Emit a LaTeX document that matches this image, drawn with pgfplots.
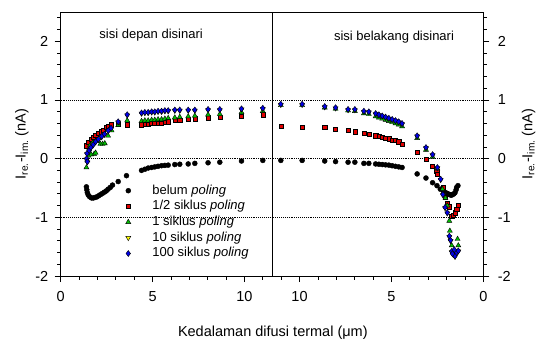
\documentclass[border=0pt]{standalone}
\usepackage{fontspec}
\setmainfont{Liberation Sans}
\usepackage{pgfplots}
\usepackage{pgfplotstable}
\pgfplotsset{compat=1.18}

% ---------- front side illuminated (left half, x = d) ----------
\pgfplotstableread{
d y
1.40 -0.48
1.42 -0.53
1.45 -0.58
1.50 -0.62
1.58 -0.65
1.68 -0.67
1.78 -0.67
1.88 -0.66
1.98 -0.65
2.08 -0.63
2.18 -0.61
2.28 -0.59
2.38 -0.57
2.48 -0.55
2.58 -0.52
2.70 -0.49
2.82 -0.45
3.13 -0.39
3.58 -0.29
4.40 -0.20
4.58 -0.18
4.76 -0.16
4.95 -0.15
5.12 -0.14
5.30 -0.13
5.49 -0.12
5.67 -0.115
5.85 -0.11
6.21 -0.10
6.48 -0.095
6.94 -0.09
7.30 -0.08
8.02 -0.07
8.66 -0.06
9.84 -0.04
11.00 -0.03
}\blackL
\pgfplotstableread{
d y
1.37 0.22
1.50 0.28
1.64 0.33
1.77 0.36
1.90 0.40
2.05 0.43
2.20 0.46
2.32 0.49
2.47 0.53
2.60 0.56
2.74 0.58
3.13 0.59
3.62 0.58
4.40 0.58
4.58 0.59
4.76 0.59
4.95 0.60
5.12 0.60
5.30 0.61
5.49 0.61
5.67 0.62
5.85 0.63
6.21 0.65
6.48 0.66
6.94 0.67
7.30 0.68
8.02 0.70
8.66 0.71
9.84 0.73
11.00 0.75
}\redL
\pgfplotstableread{
d y
1.40 -0.15
1.45 -0.03
1.52 0.05
1.58 0.22
1.66 0.07
1.74 0.27
1.82 0.08
1.90 0.10
2.05 0.30
2.16 0.25
2.28 0.25
2.40 0.26
2.58 0.39
2.77 0.48
3.13 0.57
3.62 0.65
4.40 0.64
4.58 0.65
4.76 0.65
4.95 0.66
5.12 0.66
5.30 0.67
5.49 0.67
5.67 0.68
5.85 0.69
6.21 0.70
6.48 0.71
6.94 0.72
7.30 0.73
8.02 0.75
8.66 0.76
9.84 0.79
11.00 0.81
}\greenL
\pgfplotstableread{
d y
1.41 -0.01
1.45 -0.06
1.43 0.08
1.55 0.13
1.64 0.18
1.77 0.23
1.90 0.28
2.05 0.32
2.23 0.37
2.38 0.41
2.59 0.47
2.74 0.51
3.13 0.62
3.62 0.74
4.40 0.77
4.58 0.78
4.76 0.78
4.95 0.79
5.12 0.79
5.30 0.80
5.49 0.80
5.67 0.81
5.85 0.81
6.21 0.82
6.48 0.82
6.94 0.82
7.30 0.82
8.02 0.83
8.66 0.83
9.84 0.84
11.00 0.85
}\yellowL
\pgfplotstableread{
d y
1.41 0.00
1.45 -0.05
1.43 0.09
1.55 0.14
1.64 0.19
1.77 0.24
1.90 0.29
2.05 0.33
2.23 0.38
2.38 0.42
2.59 0.48
2.74 0.52
3.13 0.63
3.62 0.75
4.40 0.78
4.58 0.79
4.76 0.79
4.95 0.80
5.12 0.80
5.30 0.81
5.49 0.81
5.67 0.82
5.85 0.82
6.21 0.83
6.48 0.83
6.94 0.83
7.30 0.83
8.02 0.84
8.66 0.84
9.84 0.85
11.00 0.86
}\blueL

% ---------- back side illuminated (right half, x = 23 - d) ----------
\pgfplotstableread{
d y
11.02 -0.03
9.86 -0.03
8.63 -0.04
8.04 -0.05
7.36 -0.06
6.99 -0.06
6.50 -0.08
6.23 -0.08
5.86 -0.09
5.68 -0.095
5.50 -0.10
5.32 -0.105
5.14 -0.11
4.96 -0.12
4.78 -0.13
4.60 -0.14
4.42 -0.15
3.60 -0.26
3.12 -0.33
2.76 -0.41
2.52 -0.46
2.34 -0.52
2.17 -0.56
2.05 -0.58
1.99 -0.59
1.92 -0.60
1.85 -0.61
1.78 -0.62
1.72 -0.62
1.67 -0.61
1.60 -0.60
1.54 -0.58
1.48 -0.53
1.45 -0.49
1.38 -0.46
}\blackR
\pgfplotstableread{
d y
11.02 0.56
9.86 0.54
8.63 0.53
8.04 0.50
7.36 0.48
6.99 0.46
6.50 0.43
6.23 0.42
5.86 0.39
5.68 0.38
5.50 0.37
5.32 0.35
5.14 0.34
4.96 0.32
4.78 0.31
4.60 0.29
4.42 0.25
3.58 0.11
3.12 -0.01
2.78 -0.13
2.54 -0.21
2.52 -0.26
2.20 -0.48
2.08 -0.66
1.96 -0.76
1.85 -0.82
1.72 -0.98
1.63 -0.97
1.54 -0.92
1.45 -0.86
1.36 -0.79
}\redR
\pgfplotstableread{
d y
11.02 0.91
9.86 0.91
8.63 0.87
8.04 0.85
7.36 0.82
6.99 0.81
6.50 0.77
6.23 0.76
5.86 0.72
5.68 0.70
5.50 0.68
5.32 0.66
5.14 0.64
4.96 0.62
4.78 0.60
4.60 0.58
4.42 0.55
3.60 0.35
3.12 0.15
2.76 0.03
2.50 -0.17
2.22 -0.52
2.06 -0.67
1.96 -0.80
1.85 -1.06
1.82 -1.23
1.72 -1.48
1.40 -1.37
1.36 -1.48
}\greenR
\pgfplotstableread{
d y
11.02 0.92
9.86 0.92
8.63 0.88
8.04 0.86
7.36 0.83
6.99 0.83
6.50 0.80
6.23 0.79
5.86 0.76
5.68 0.74
5.50 0.72
5.32 0.70
5.14 0.68
4.96 0.66
4.78 0.64
4.60 0.62
4.42 0.59
3.60 0.38
3.12 0.18
2.76 0.06
2.50 -0.16
2.32 -0.36
2.20 -0.62
2.08 -0.84
1.96 -0.93
1.85 -1.33
1.78 -1.40
1.72 -1.59
1.63 -1.64
1.54 -1.67
1.45 -1.61
1.36 -1.58
}\yellowR
\pgfplotstableread{
d y
11.02 0.93
9.86 0.93
8.63 0.89
8.04 0.87
7.36 0.84
6.99 0.84
6.50 0.81
6.23 0.80
5.86 0.77
5.68 0.75
5.50 0.73
5.32 0.71
5.14 0.69
4.96 0.67
4.78 0.65
4.60 0.63
4.42 0.60
3.60 0.39
3.12 0.19
2.76 0.07
2.50 -0.15
2.32 -0.35
2.20 -0.61
2.08 -0.83
1.96 -0.92
1.85 -1.32
1.78 -1.39
1.72 -1.58
1.63 -1.63
1.54 -1.66
1.45 -1.60
1.36 -1.57
1.58 -1.55
1.68 -1.62
}\blueR

\definecolor{mred}{RGB}{225,0,0}
\definecolor{mgreen}{RGB}{0,190,0}
\definecolor{myellow}{RGB}{255,255,0}
\definecolor{mblue}{RGB}{0,0,230}

\pgfplotsset{
  common/.style={
    at={(0,0)}, anchor=south west,
    scale only axis, width=422.6bp, height=264bp,
    xmin=0, xmax=23, ymin=-2, ymax=2.5,
    ytick={-2,-1,0,1,2},
    minor ytick={-1.8,-1.6,-1.4,-1.2,-0.8,-0.6,-0.4,-0.2,0.2,0.4,0.6,0.8,1.2,1.4,1.6,1.8,2.2,2.4},
    tick align=outside,
    major tick length=6bp, minor tick length=3.5bp,
    every tick/.style={black, line width=0.8bp},
    axis line style={line width=0.8bp},
    tick label style={font=\fontsize{14.5bp}{17bp}\selectfont},
    label style={font=\fontsize{14.5bp}{17bp}\selectfont},
    /pgf/number format/assume math mode=true,
  },
  sBlack/.style={only marks, mark=*, mark size=2.5bp, mark options={fill=black, draw=black, line width=0.4bp}},
  sRed/.style={only marks, mark=square*, mark size=2.1bp, mark options={fill=mred, draw=black, line width=0.4bp}},
  sGreen/.style={only marks, mark=triangle*, mark size=2.9bp, mark options={fill=mgreen, draw=black, line width=0.4bp}},
  sYellow/.style={only marks, mark=triangle*, mark size=2.9bp, mark options={fill=myellow, draw=black, line width=0.4bp, rotate=180}},
  sBlue/.style={only marks, mark=diamond*, mark size=3.0bp, mark options={fill=mblue, draw=black, line width=0.4bp}},
}

\begin{document}
\begin{tikzpicture}
\path[use as bounding box] (-60.7bp,-67bp) rectangle (475.3bp,276bp);
\begin{axis}[
  common,
  xtick={0,5,10,13,18,23}, xticklabels={0,5,10,10,5,0},
  minor xtick={1,2,3,4,6,7,8,9,11,12,14,15,16,17,19,20,21,22},
  xtick pos=bottom, ytick pos=left, yticklabel pos=left,
  xticklabel style={yshift=-6bp},
  yticklabel style={xshift=-3bp},
  xlabel={Kedalaman difusi termal (μm)},
  ylabel={I\textsubscript{re.}-I\textsubscript{im.} (nA)},
  xlabel style={at={(axis description cs:0.502,-0.215)}, anchor=center},
  ylabel style={at={(axis description cs:-0.0916,0.5)}, anchor=center},
  legend style={draw=none, fill=none, inner sep=0pt, outer sep=0pt,
    at={(axis description cs:0.154,0.3464)}, anchor=north west,
    font=\fontsize{13bp}{15bp}\selectfont,
    row sep=3.4bp, column sep=21.6bp,
    nodes={inner sep=0pt, text height=9.6bp, text depth=2.7bp}},
  legend cell align=left,
]
\addplot[forget plot, black, line width=0.8bp, dash pattern=on 0.8bp off 1.1bp] coordinates {(0,1) (23,1)};
\addplot[forget plot, black, line width=0.8bp, dash pattern=on 0.8bp off 1.1bp] coordinates {(0,0) (23,0)};
\addplot[forget plot, black, line width=0.8bp, dash pattern=on 0.8bp off 1.1bp] coordinates {(0,-1) (23,-1)};
\addplot[forget plot, black, line width=0.8bp] coordinates {(11.5,-2) (11.5,2.5)};

\addplot[sBlack] table[x=d, y=y] {\blackL};
\addlegendentry{belum \textit{poling}}
\addplot[sRed] table[x=d, y=y] {\redL};
\addlegendentry{1/2 siklus \textit{poling}}
\addplot[sGreen] table[x=d, y=y] {\greenL};
\addlegendentry{1 siklus \textit{poling}}
\addplot[sYellow] table[x=d, y=y] {\yellowL};
\addlegendentry{10 siklus \textit{poling}}
\addplot[sBlue] table[x=d, y=y] {\blueL};
\addlegendentry{100 siklus \textit{poling}}

\addplot[sBlack, forget plot] table[x expr=23-\thisrow{d}, y=y] {\blackR};
\addplot[sRed, forget plot] table[x expr=23-\thisrow{d}, y=y] {\redR};
\addplot[sGreen, forget plot] table[x expr=23-\thisrow{d}, y=y] {\greenR};
\addplot[sYellow, forget plot] table[x expr=23-\thisrow{d}, y=y] {\yellowR};
\addplot[sBlue, forget plot] table[x expr=23-\thisrow{d}, y=y] {\blueR};

\node[font=\fontsize{13bp}{15bp}\selectfont] at (axis cs:4.92,2.106) {sisi depan disinari};
\node[font=\fontsize{13bp}{15bp}\selectfont] at (axis cs:18.14,2.08) {sisi belakang disinari};
\end{axis}
\begin{axis}[
  common,
  xtick=\empty,
  ytick pos=right, yticklabel pos=right,
  yticklabel style={xshift=5bp},
  ylabel={I\textsubscript{re.}-I\textsubscript{im.} (nA)},
  ylabel style={at={(axis description cs:1.107,0.5)}, anchor=center},
]
\end{axis}
\end{tikzpicture}
\end{document}
